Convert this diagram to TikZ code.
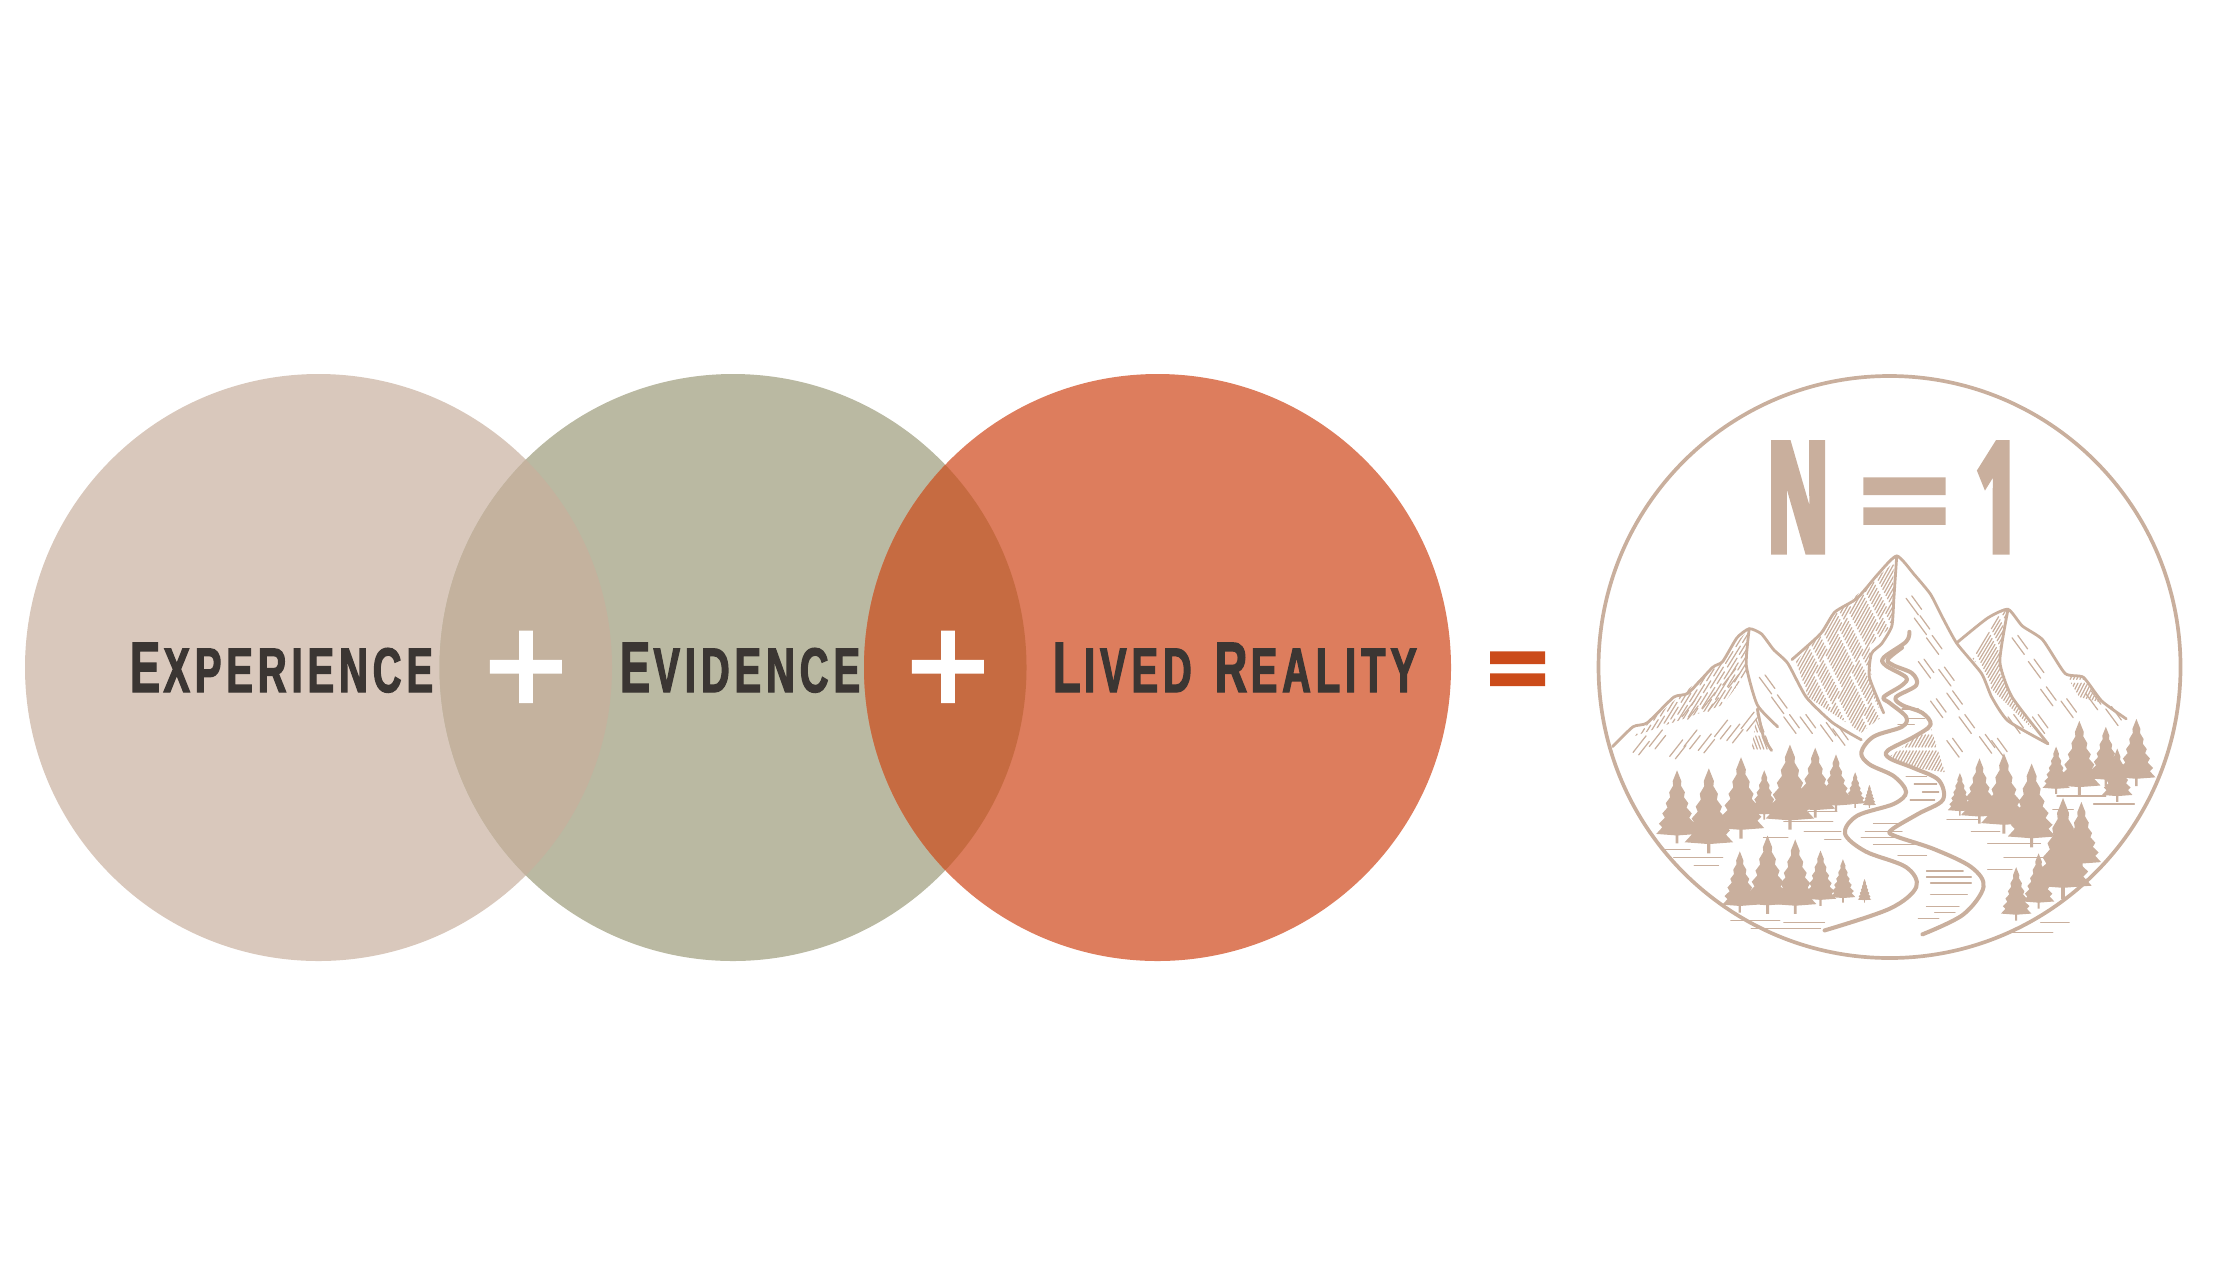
\documentclass[tikz,border=0pt]{standalone}
\usepackage{fontspec}
\usepackage{xcolor}
\usetikzlibrary{positioning}
\newfontfamily\labelfont[UprightFont={* Bold},FakeStretch=0.63,FakeBold=2,LetterSpace=8]{Liberation Sans}
\newfontfamily\plusfont[FakeBold=2.6]{Liberation Sans}
\newfontfamily\signfont[UprightFont={* Bold},FakeBold=5]{Liberation Sans}
\newfontfamily\logofont[UprightFont={* Bold},FakeStretch=0.5,FakeBold=3.5]{Open Sans}
\definecolor{sandfill}{HTML}{D9C8BC}
\definecolor{sagefill}{HTML}{BAB9A2}
\definecolor{rustfill}{HTML}{DD7D5D}
\definecolor{sandsage}{HTML}{C4B29E}
\definecolor{sagerust}{HTML}{C66B41}
\definecolor{inktext}{HTML}{3B3633}
\definecolor{logotan}{HTML}{C9AF9D}
\definecolor{equalred}{HTML}{CB4B1A}
\newcommand{\capword}[2]{{\fontsize{20.3}{24}\selectfont #1}\hspace{1pt}{\fontsize{17.9}{24}\selectfont #2}}

\begin{document}
\begin{tikzpicture}[
    x=0.01cm, y=-0.01cm,
    word/.style={inner sep=0pt, anchor=base, text=inktext, font=\labelfont},
    plussign/.style={inner sep=0pt, text=white, font=\plusfont\fontsize{40}{40}\selectfont},
    ridge/.style={draw=logotan, line width=0.8pt, line join=round, line cap=round},
    bank/.style={draw=logotan, line width=1.15pt, line join=round, line cap=round},
    fineline/.style={draw=logotan, line width=0.35pt, line cap=round},
    engraved/.style={fineline, dash pattern=on 7pt off 1.2pt on 4pt off 1.6pt},
    pine/.pic={
        \fill[logotan] (-1.6,0) -- (-1.6,-11) -- (-24,-13) -- (-17,-22) -- (-21,-27) -- (-14,-35) -- (-17,-41) -- (-11,-49) -- (-13,-55) -- (-8,-63) -- (-9,-70) -- (-4.5,-79) -- (-5,-85) -- (0,-100)
            -- (5,-85) -- (4.5,-79) -- (9,-70) -- (8,-63) -- (13,-55) -- (11,-49) -- (17,-41) -- (14,-35) -- (21,-27) -- (17,-22) -- (24,-13) -- (1.6,-11) -- (1.6,0) -- cycle;
    }
]
\useasboundingbox (0,0) rectangle (2240,1260);

% Circles
\fill[sandfill] (318.5,667.5) circle (293.5);
\fill[sagefill] (733,667.5) circle (293.5);
\fill[rustfill] (1157.5,667.5) circle (293.5);
\begin{scope}
    \clip (318.5,667.5) circle (293.5);
    \fill[sandsage] (733,667.5) circle (293.5);
\end{scope}
\begin{scope}
    \clip (733,667.5) circle (293.5);
    \fill[sagerust] (1157.5,667.5) circle (293.5);
\end{scope}

% Labels
\node[word] (experience) at (281.5,692) {\capword{E}{XPERIENCE}};
\node[word] (evidence) at (740,692) {\capword{E}{VIDENCE}};
\node[word] (lived) at (1235,692) {\capword{L}{IVED}\hspace{4pt} \capword{R}{EALITY}};

% Signs
\node[plussign] (plusa) at (526,673) {+};
\node[plussign] (plusb) at (948,673) {+};
\node[inner sep=0pt, text=equalred] (equal) at (1517.5,674.5) {\scalebox{0.71}[0.58]{\signfont\fontsize{40}{40}\selectfont =}};

% Logo
\draw[logotan, line width=1.05pt] (1889.5,667) circle (291);
\node[inner sep=0pt, anchor=base, text=logotan] (logotext) at (1893,552) {\logofont\fontsize{43.5}{50}\selectfont N\hspace{9pt}\raisebox{4pt}{\scalebox{1.06}[0.79]{\signfont\fontsize{40}{40}\selectfont =}}\hspace{7.8pt}1};

\begin{scope}[shift={(1580,361)}, x=0.00408cm, y=-0.00395cm]
    % Shaded faces
    \begin{scope}
        \clip (530,760) -- (625,640) -- (770,510) -- (765,670) -- (710,720) -- (715,800) -- (740,900) -- (690,940) -- (560,850) -- cycle;
        \foreach \i in {0,8,...,540} {
            \pgfmathsetmacro\ph{mod(\i*7,11)}
            \draw[engraved, dash phase=\ph pt] (400+\i,960) -- ++(260,-480);
        }
    \end{scope}
    \begin{scope}
        \clip (930,712) -- (1000,650) -- (1050,628) -- (1030,760) -- (1060,850) -- (1110,930) -- (1010,830) -- (985,780) -- cycle;
        \foreach \i in {0,8,...,300} {
            \pgfmathsetmacro\ph{mod(\i*7,11)}
            \draw[engraved, dash phase=\ph pt] (850+\i,950) -- ++(210,-360);
        }
    \end{scope}
    \begin{scope}
        \clip (415,677) -- (330,775) -- (230,860) -- (130,950) -- (350,870) -- (408,790) -- cycle;
        \foreach \i in {0,10,...,500} {
            \pgfmathsetmacro\ph{mod(\i*7,11)}
            \draw[engraved, dash phase=\ph pt] (50+\i,960) -- ++(180,-300);
        }
    \end{scope}
    \begin{scope}
        \clip (760,1000) -- (860,925) -- (895,1040) -- (830,1030) -- cycle;
        \foreach \i in {0,8,...,180} {
            \draw[engraved] (740+\i,1040) -- ++(60,-110);
        }
    \end{scope}
    \begin{scope}
        \clip (1190,790) -- (1235,800) -- (1285,865) -- (1225,850) -- cycle;
        \foreach \i in {0,8,...,120} {
            \draw[engraved] (1170+\i,870) -- ++(40,-80);
        }
    \end{scope}
    \begin{scope}
        \clip (435,880) -- (470,985) -- (420,990) -- cycle;
        \foreach \i in {0,8,...,100} {
            \draw[engraved] (390+\i,880) -- ++(40,110);
        }
    \end{scope}

    % Mountain outlines
    \draw[ridge] plot[smooth, tension=0.35] coordinates {(80,975) (130,925) (165,915) (230,850) (265,840) (325,775) (350,760) (385,700) (415,677) (445,690) (475,730) (510,765) (555,850) (620,915) (690,958)};
    \draw[ridge] plot[smooth, tension=0.35] coordinates {(520,755) (590,690) (625,635) (680,600) (730,540) (777,493) (820,540) (860,590) (890,650) (925,715) (985,790) (1010,850) (1050,910) (1148,968)};
    \draw[ridge] plot[smooth, tension=0.35] coordinates {(925,712) (1000,650) (1050,628) (1085,670) (1135,705) (1190,790) (1235,800) (1280,860) (1340,905)};
    \draw[ridge] plot[smooth, tension=0.35] coordinates {(777,493) (770,600) (765,670) (740,715) (715,740) (710,800) (745,890)};
    \draw[ridge] plot[smooth, tension=0.35] coordinates {(415,677) (408,770) (435,870) (485,925)};
    \draw[ridge] plot[smooth, tension=0.35] coordinates {(435,880) (450,950) (470,985)};
    \draw[ridge] plot[smooth, tension=0.35] coordinates {(1050,628) (1030,760) (1060,850) (1148,968)};

    % Slope strokes
    \foreach \x/\y in {130/990,170/975,220/1000,255/975,290/985,330/950,360/960,395/930,300/880,250/900,350/820} {
        \draw[fineline] (\x,\y) -- ++(32,-42);
        \draw[fineline] (\x+14,\y+6) -- ++(26,-34);
    }
    \foreach \x/\y in {440/800,470/850,500/900,540/900,590/920,620/930,800/600,820/650,850/700,830/760,880/780,860/860,900/840,930/900,980/950,1060/700,1100/760,1130/830,1180/860,1240/840,1290/880,1050/900,1110/900,1010/960,900/960} {
        \draw[fineline] (\x,\y) -- ++(30,42);
        \draw[fineline] (\x+14,\y-6) -- ++(24,34);
    }

    % River
    \draw[bank] plot[smooth, tension=0.55] coordinates {(600,1440) (760,1385) (825,1330) (800,1280) (700,1240) (650,1195) (680,1150) (770,1120) (800,1090) (770,1050) (710,1020) (690,990) (720,950) (790,925) (800,900) (760,865) (745,850) (790,820) (800,800) (750,770) (745,750) (800,710) (808,685)};
    \draw[bank] plot[smooth, tension=0.55] coordinates {(840,1450) (940,1400) (990,1330) (960,1280) (870,1235) (770,1200) (765,1185) (830,1145) (890,1110) (880,1060) (820,1030) (760,1005) (755,985) (820,950) (860,920) (840,890) (790,870) (775,850) (825,820) (815,790) (770,770) (755,755) (790,725)};
    \foreach \x/\y/\l in {800/1050/50,820/1070/55,840/1090/40,810/1110/60,720/1170/60,700/1190/90,690/1205/100,720/1222/100,780/1250/70,850/1290/90,850/1305/110,860/1320/100,860/1350/90,850/1380/80,870/1395/50,830/1410/50,780/920/40,800/905/45,790/880/40} {
        \draw[fineline] (\x,\y) -- ++(\l,0);
    }

    % Ground strokes
    \foreach \x/\y/\l in {200/1235/70,230/1255/120,280/1275/60,370/1415/120,420/1435/170,500/1420/100,560/1140/70,500/1165/120,550/1190/90,450/1205/60,600/1210/40,900/1160/80,960/1190/70,1000/1220/130,1040/1255/120,1000/1285/60,1170/1100/120,1260/1120/100,1130/1420/70,1050/1445/110,1160/1135/50} {
        \draw[fineline] (\x,\y) -- ++(\l,0);
    }

    % Pines
    \foreach \px/\py/\ps in {238/1220/1.85,316/1245/2.15,395/1208/2.06,452/1160/1.25,515/1185/2.15,577/1155/1.77,628/1140/1.45,675/1130/0.9,710/1130/0.58,
        392/1395/1.55,460/1398/1.98,528/1398/1.88,590/1378/1.4,645/1370/1.1,698/1370/0.6,
        932/1150/1.08,980/1170/1.65,1040/1195/2.03,1108/1230/2.12,1168/1095/1.2,1225/1098/1.88,1290/1075/1.5,1318/1115/1.35,1365/1075/1.7,
        1230/1290/1.75,1185/1360/2.55,1125/1385/1.4,1070/1415/1.35} {
        \pic[scale=\ps, xscale=1.15] at (\px,\py) {pine};
    }
\end{scope}
\end{tikzpicture}
\end{document}
